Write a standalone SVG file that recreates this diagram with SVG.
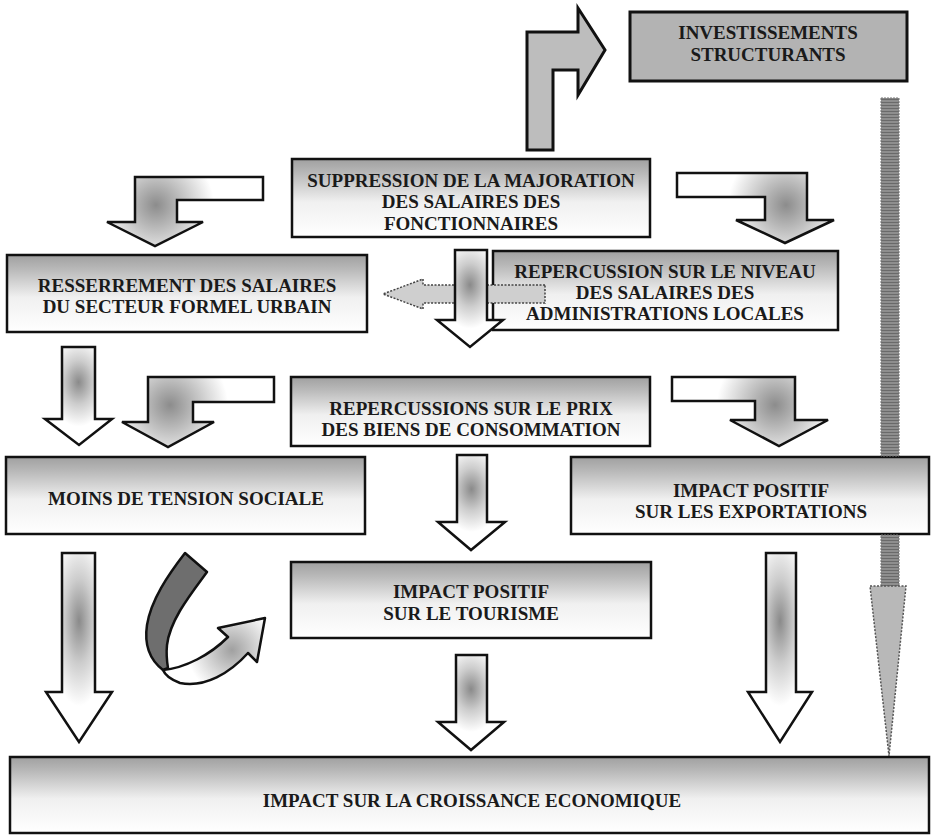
<svg xmlns="http://www.w3.org/2000/svg" width="931" height="836" viewBox="0 0 931 836">
<style>
.t{font-family:"Liberation Serif","Times New Roman",serif;font-weight:bold;font-size:19px;text-anchor:middle;fill:#1a1a1a}
.box{fill:url(#boxGrad);stroke:#111;stroke-width:2.5}
.arr{fill:url(#arrGrad);stroke:#111;stroke-width:2.5;stroke-linejoin:miter}
.bent{stroke:#111;stroke-width:2.5}
</style>
<defs>
<linearGradient id="boxGrad" x1="0" y1="0" x2="0" y2="1">
<stop offset="0" stop-color="#a0a0a0"/>
<stop offset="0.18" stop-color="#b8b8b8"/>
<stop offset="0.55" stop-color="#f0f0f0"/>
<stop offset="1" stop-color="#ffffff"/>
</linearGradient>
<radialGradient id="arrGrad" cx="0.5" cy="0.36" r="0.45">
<stop offset="0" stop-color="#8a8a8a"/>
<stop offset="0.5" stop-color="#cdcdcd"/>
<stop offset="1" stop-color="#ffffff"/>
</radialGradient>
<radialGradient id="bg1" gradientUnits="userSpaceOnUse" cx="156" cy="205" r="58">
<stop offset="0" stop-color="#8c8c8c"/><stop offset="1" stop-color="#ffffff"/>
</radialGradient>
<radialGradient id="bg2" gradientUnits="userSpaceOnUse" cx="786" cy="205" r="58">
<stop offset="0" stop-color="#8c8c8c"/><stop offset="1" stop-color="#ffffff"/>
</radialGradient>
<radialGradient id="bg3" gradientUnits="userSpaceOnUse" cx="170" cy="405" r="58">
<stop offset="0" stop-color="#8c8c8c"/><stop offset="1" stop-color="#ffffff"/>
</radialGradient>
<radialGradient id="bg4" gradientUnits="userSpaceOnUse" cx="775" cy="405" r="58">
<stop offset="0" stop-color="#8c8c8c"/><stop offset="1" stop-color="#ffffff"/>
</radialGradient>
<radialGradient id="curveGrad" gradientUnits="userSpaceOnUse" cx="232" cy="650" r="45">
<stop offset="0" stop-color="#a0a0a0"/><stop offset="1" stop-color="#ffffff"/>
</radialGradient>
<pattern id="hatch" patternUnits="userSpaceOnUse" width="4" height="3">
<rect width="4" height="3" fill="#8e8e8e"/>
<rect width="4" height="1" fill="#6a6a6a"/>
</pattern>
</defs>

<g id="n-invest">
<rect x="630" y="12" width="277" height="69" fill="#b3b3b3" stroke="#111" stroke-width="3"/>
<text class="t" x="768" y="39">INVESTISSEMENTS</text>
<text class="t" x="768" y="61">STRUCTURANTS</text>
</g>
<g id="n-suppression">
<rect class="box" x="292" y="159" width="358" height="78"/>
<text class="t" x="471" y="187">SUPPRESSION DE LA MAJORATION</text>
<text class="t" x="471" y="208">DES SALAIRES DES</text>
<text class="t" x="471" y="230">FONCTIONNAIRES</text>
</g>
<g id="n-resserrement">
<rect class="box" x="7" y="255" width="360" height="77"/>
<text class="t" x="187" y="292">RESSERREMENT DES SALAIRES</text>
<text class="t" x="187" y="313">DU SECTEUR FORMEL URBAIN</text>
</g>
<g id="n-repercussion">
<rect class="box" x="493" y="251" width="345" height="79"/>
<text class="t" x="665" y="278">REPERCUSSION SUR LE NIVEAU</text>
<text class="t" x="665" y="299">DES SALAIRES DES</text>
<text class="t" x="665" y="320">ADMINISTRATIONS LOCALES</text>
</g>
<g id="n-prix">
<rect class="box" x="291" y="377" width="359" height="69"/>
<text class="t" x="471" y="415">REPERCUSSIONS SUR LE PRIX</text>
<text class="t" x="471" y="436">DES BIENS DE CONSOMMATION</text>
</g>
<g id="n-tension">
<rect class="box" x="6" y="457" width="359" height="77"/>
<text class="t" x="186" y="505">MOINS DE TENSION SOCIALE</text>
</g>
<g id="n-exportations">
<rect class="box" x="571" y="457" width="358" height="77"/>
<text class="t" x="751" y="497">IMPACT POSITIF</text>
<text class="t" x="751" y="518">SUR LES EXPORTATIONS</text>
</g>
<g id="n-tourisme">
<rect class="box" x="291" y="562" width="360" height="76"/>
<text class="t" x="471" y="598">IMPACT POSITIF</text>
<text class="t" x="471" y="620">SUR LE TOURISME</text>
</g>
<g id="n-croissance">
<rect class="box" x="10" y="757" width="919" height="76"/>
<text class="t" x="472" y="807">IMPACT SUR LA CROISSANCE ECONOMIQUE</text>
</g>

<g id="connectors">
<g id="c-invest">
<rect x="881" y="98" width="18" height="358" fill="url(#hatch)" stroke="#777" stroke-width="1" stroke-dasharray="2,1"/>
<rect x="881" y="535" width="18" height="51" fill="url(#hatch)" stroke="#777" stroke-width="1" stroke-dasharray="2,1"/>
<path d="M870,586 L906,586 L889,756 Z" fill="#b8b8b8" stroke="#555" stroke-width="1.5" stroke-dasharray="2,1.5"/>
</g>
<path d="M527,150 L527,32 L578,32 L578,8 L605,50 L578,95 L578,70 L553,70 L553,150 Z" fill="#bdbdbd" stroke="#111" stroke-width="3"/>
<path class="bent" fill="url(#bg1)" d="M263,177 L135,177 L135,222 L107,222 L155,246 L203,222 L177,222 L177,200 L263,200 Z"/>
<path class="bent" fill="url(#bg2)" d="M677,173 L807,173 L807,220 L834,220 L785,243 L736,220 L765,220 L765,197 L677,197 Z"/>
<path d="M545,285 L423,285 L423,279 L383,294 L423,309 L423,303 L545,303 Z" fill="#cfcfcf" stroke="#444" stroke-width="1.5" stroke-dasharray="2,1.5"/>
<path class="arr" d="M455,250 L487,250 L487,320 L503,320 L470,347 L437,320 L455,320 Z"/>
<path class="arr" d="M62,347 L95,347 L95,419 L112,419 L79,445 L45,419 L62,419 Z"/>
<path class="bent" fill="url(#bg3)" d="M274,377 L148,377 L148,422 L122,422 L168,447 L214,422 L193,422 L193,402 L274,402 Z"/>
<path class="bent" fill="url(#bg4)" d="M672,377 L795,377 L795,420 L828,420 L779,446 L730,420 L755,420 L755,401 L672,401 Z"/>
<path class="arr" d="M457,455 L487,455 L487,522 L505,522 L471,550 L438,522 L457,522 Z"/>
<path class="arr" d="M62,553 L95,553 L95,692 L112,692 L79,742 L46,692 L62,692 Z"/>
<path class="arr" d="M456,655 L487,655 L487,722 L504,722 L471,750 L438,722 L456,722 Z"/>
<path class="arr" d="M766,553 L796,553 L796,692 L812,692 L780,742 L748,692 L766,692 Z"/>
<path d="M185,553 L207,572 C190,595 170,620 167,645 C166,655 167,662 168,668 L163,670 C150,660 144,645 147,625 C151,600 168,575 185,553 Z" fill="#6e6e6e" stroke="#111" stroke-width="2.5" stroke-linejoin="round"/>
<path d="M163,670 C185,668 210,655 228,637 L218,628 L265,618 L257,662 L248,653 C230,673 205,688 180,683 C172,680 165,675 163,670 Z" fill="url(#curveGrad)" stroke="#111" stroke-width="2.5" stroke-linejoin="round"/>
</g>
</svg>
